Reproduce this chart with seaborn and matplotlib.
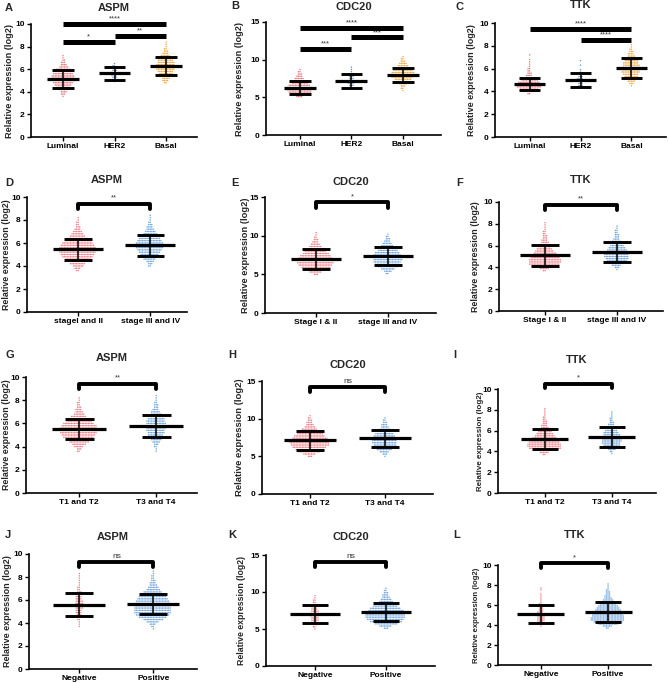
import warnings
warnings.filterwarnings("ignore")
import numpy as np
import pandas as pd
import matplotlib
matplotlib.use("Agg")
import matplotlib.pyplot as plt
import seaborn as sns

sns.set_theme(style="ticks")
plt.rcParams['font.family'] = ['Liberation Sans', 'DejaVu Sans']
plt.rcParams['font.weight'] = 'bold'

# ---------------- data ----------------
cats_subtype = ["Luminal", "HER2", "Basal"]
cats_stage_D = ["stageI and II", "stage III and IV"]
cats_stage_EF = ["Stage I & II", "stage III and IV"]
cats_T = ["T1 and T2", "T3 and T4"]
cats_np = ["Negative", "Positive"]

letters = ["A", "B", "C", "D", "E", "F", "G", "H", "I", "J", "K", "L"]
genes = ["ASPM", "CDC20", "TTK"] * 4
bin_width = {"ASPM": 0.2, "CDC20": 0.3, "TTK": 0.2}
ymax = {"ASPM": 10, "CDC20": 15, "TTK": 10}
yticks = {"ASPM": [0, 2, 4, 6, 8, 10], "CDC20": [0, 5, 10, 15], "TTK": [0, 2, 4, 6, 8, 10]}

# histogram of points per group: first bin centre + counts per bin
A_starts = [3.6, 4.9, 4.8]
A_counts = [[1, 3, 4, 6, 9, 11, 13, 15, 15, 15, 13, 11, 9, 6, 4, 3, 2, 1, 1],
            [1, 2, 3, 4, 4, 3, 3, 2, 1],
            [2, 4, 5, 7, 9, 10, 12, 12, 12, 11, 10, 8, 6, 4, 3, 2, 1, 1, 1]]
B_starts = [5.1, 6.3, 5.9]
B_counts = [[4, 10, 15, 16, 16, 14, 11, 9, 6, 4, 3, 2, 1],
            [2, 3, 4, 4, 3, 3, 2, 1, 1, 1],
            [1, 2, 3, 5, 8, 11, 14, 16, 15, 13, 10, 7, 5, 3, 2, 1]]
C_starts = [3.8, 4.3, 4.5]
C_counts = [[2, 6, 12, 16, 16, 14, 11, 7, 4, 3, 2, 2, 1, 1, 1, 1, 0, 1],
            [1, 3, 3, 4, 4, 3, 2, 1, 1, 0, 1, 0, 1],
            [1, 3, 5, 7, 9, 10, 12, 12, 12, 11, 10, 9, 7, 5, 4, 3, 2, 1, 1]]
D_starts = [3.6, 4.0]
D_counts = [[2, 4, 7, 10, 13, 17, 20, 22, 24, 24, 24, 22, 20, 17, 14, 10, 8, 6, 4, 3, 2, 2, 1, 1],
            [2, 3, 5, 8, 10, 12, 14, 16, 18, 18, 18, 16, 14, 12, 9, 7, 5, 4, 3, 2, 1, 1, 1]]
E_starts = [5.0, 5.1]
E_counts = [[3, 8, 14, 19, 22, 24, 24, 22, 20, 17, 14, 11, 8, 6, 4, 3, 2, 1, 1],
            [2, 5, 9, 13, 16, 18, 19, 19, 18, 16, 13, 10, 8, 6, 4, 3, 2, 1]]
F_starts = [3.7, 3.8]
F_counts = [[2, 6, 14, 20, 21, 21, 19, 17, 15, 12, 10, 8, 7, 5, 4, 3, 3, 2, 2, 1, 1, 1, 1],
            [1, 3, 6, 10, 13, 15, 16, 16, 15, 13, 11, 9, 7, 6, 4, 3, 3, 2, 2, 1, 1]]
G_starts = [3.6, 3.6]
G_counts = [[2, 3, 6, 9, 13, 17, 20, 22, 24, 24, 24, 23, 20, 17, 13, 10, 7, 5, 4, 3, 2, 2, 1, 1],
            [1, 1, 2, 3, 5, 7, 9, 10, 11, 12, 13, 13, 13, 12, 11, 9, 7, 6, 4, 3, 3, 2, 1, 1, 1]]
H_starts = [5.0, 5.0]
H_counts = [[3, 8, 14, 19, 22, 25, 26, 25, 23, 20, 17, 13, 10, 7, 5, 4, 3, 2, 1],
            [1, 3, 6, 10, 13, 15, 16, 16, 15, 14, 12, 9, 7, 5, 4, 3, 2, 1]]
I_starts = [3.7, 3.8]
I_counts = [[2, 6, 15, 21, 22, 22, 20, 18, 16, 13, 11, 9, 7, 5, 4, 3, 3, 2, 2, 1, 1, 1, 1],
            [1, 2, 5, 8, 11, 12, 13, 13, 12, 11, 10, 8, 7, 5, 4, 3, 2, 2, 1, 1, 1]]
J_starts = [3.7, 3.5]
J_counts = [[1, 1, 1, 2, 3, 3, 4, 4, 5, 5, 5, 5, 4, 4, 4, 3, 2, 2, 1, 1, 1, 1, 1, 1],
            [1, 2, 4, 8, 13, 18, 22, 24, 24, 24, 24, 23, 22, 20, 18, 15, 12, 9, 7, 5, 4, 3, 2, 2, 1, 1]]
K_starts = [5.0, 5.1]
K_counts = [[1, 2, 3, 4, 5, 5, 6, 5, 5, 4, 4, 3, 2, 2, 1, 1],
            [3, 8, 15, 21, 24, 26, 26, 25, 23, 20, 16, 12, 9, 7, 5, 4, 3, 2, 1]]
L_starts = [3.9, 3.7]
L_counts = [[1, 3, 4, 5, 5, 5, 4, 4, 3, 3, 2, 2, 1, 1, 1, 1, 1, 0, 1, 1],
            [2, 6, 13, 19, 22, 22, 21, 20, 19, 17, 15, 13, 11, 9, 7, 5, 4, 3, 3, 2, 1, 1, 1]]

# mean and SD of each group
A_mean, A_sd = [5.15, 5.62, 6.25], [0.77, 0.59, 0.79]
B_mean, B_sd = [6.28, 7.18, 7.98], [0.90, 0.88, 0.93]
C_mean, C_sd = [4.68, 5.00, 6.05], [0.53, 0.61, 0.84]
D_mean, D_sd = [5.46, 5.80], [0.92, 0.93]
E_mean, E_sd = [7.00, 7.38], [1.25, 1.19]
F_mean, F_sd = [5.12, 5.40], [0.95, 0.95]
G_mean, G_sd = [5.49, 5.80], [0.86, 0.94]
H_mean, H_sd = [7.12, 7.37], [1.22, 1.19]
I_mean, I_sd = [5.18, 5.40], [0.97, 0.97]
J_mean, J_sd = [5.58, 5.64], [1.01, 0.90]
K_mean, K_sd = [7.00, 7.26], [1.25, 1.20]
L_mean, L_sd = [5.08, 5.33], [0.92, 1.00]

# significance: (group i, group j, height, label)
A_sig = [(0, 2, 10.0, "****"), (0, 1, 8.45, "*"), (1, 2, 8.95, "**")]
B_sig = [(0, 2, 14.2, "****"), (1, 2, 12.95, "***"), (0, 1, 11.45, "***")]
C_sig = [(0, 2, 9.5, "****"), (1, 2, 8.55, "****")]
D_sig = [(0, 1, 9.42, "**")]
E_sig = [(0, 1, 14.3, "*")]
F_sig = [(0, 1, 9.75, "**")]
G_sig = [(0, 1, 9.43, "**")]
H_sig = [(0, 1, 14.2, "ns")]
I_sig = [(0, 1, 10.5, "*")]
J_sig = [(0, 1, 9.33, "ns")]
K_sig = [(0, 1, 14.1, "ns")]
L_sig = [(0, 1, 10.2, "*")]

panel_cats = [cats_subtype] * 3 + [cats_stage_D, cats_stage_EF, cats_stage_EF] + [cats_T] * 3 + [cats_np] * 3
panel_starts = [A_starts, B_starts, C_starts, D_starts, E_starts, F_starts,
                G_starts, H_starts, I_starts, J_starts, K_starts, L_starts]
panel_counts = [A_counts, B_counts, C_counts, D_counts, E_counts, F_counts,
                G_counts, H_counts, I_counts, J_counts, K_counts, L_counts]
panel_mean = [A_mean, B_mean, C_mean, D_mean, E_mean, F_mean, G_mean, H_mean, I_mean, J_mean, K_mean, L_mean]
panel_sd = [A_sd, B_sd, C_sd, D_sd, E_sd, F_sd, G_sd, H_sd, I_sd, J_sd, K_sd, L_sd]
panel_sig = [A_sig, B_sig, C_sig, D_sig, E_sig, F_sig, G_sig, H_sig, I_sig, J_sig, K_sig, L_sig]

# ---------------- styling / layout ----------------
W, H = 669, 683
subtype_colors = ["#E8737D", "#6A8DB8", "#F0A640"]
pair_colors = ["#EC7F86", "#6FA3DA"]

rects = [(31, 197, 24, 137), (266, 441, 22, 135), (495, 666, 23, 137),
         (27, 187, 197, 312), (265, 436, 197, 313), (499, 663, 202, 311),
         (26, 197, 377, 493), (262, 433, 381, 494), (498, 656, 389, 493),
         (29, 197, 554, 669), (266, 435, 555, 666), (498, 651, 565, 665)]
xlims = [(-0.62, 2.6), (-0.66, 2.74), (-0.68, 2.68),
         (-0.71, 1.51), (-0.71, 1.67), (-0.64, 1.64),
         (-0.69, 1.53), (-0.64, 1.64), (-0.70, 1.66),
         (-0.68, 1.59), (-0.69, 1.69), (-0.64, 1.64)]
ylabel_x = [10, 240, 471, 7, 245, 476, 7, 240, 481, 8, 241, 477]
ylabel_fs = [6.6, 6.6, 6.5, 6.4, 6.7, 6.4, 6.4, 6.8, 5.8, 6.5, 6.3, 5.6]
title_y = [8, 7, 5, 180, 182, 180, 358, 365, 360, 537, 537, 535]
letter_xy = [(5, 8), (231, 6), (456, 7), (5, 183), (231, 183), (456, 183),
             (5, 355), (228, 355), (453, 355), (5, 535), (228, 535), (453, 535)]

fig = plt.figure(figsize=(W / 100, H / 100), dpi=100)
fig.patch.set_facecolor("white")

for k in range(12):
    gene = genes[k]
    cats = panel_cats[k]
    w = bin_width[gene]
    rows = []
    for g, (st, cnt) in enumerate(zip(panel_starts[k], panel_counts[k])):
        centres = np.round(st + w * np.arange(len(cnt)), 3)
        vals = np.repeat(centres, cnt)
        rows.append(pd.DataFrame({"group": cats[g], "value": vals}))
    df = pd.concat(rows, ignore_index=True)
    colors = subtype_colors if len(cats) == 3 else pair_colors
    pal = {c: colors[i] for i, c in enumerate(cats)}

    l, r, t, b = rects[k]
    ax = fig.add_axes([l / W, (H - b) / H, (r - l) / W, (b - t) / H])
    n = len(cats)
    ax.set_xlim(*xlims[k])
    ax.set_ylim(0, ymax[gene])
    sns.swarmplot(data=df, x="group", y="value", hue="group", order=cats, hue_order=cats,
                  palette=pal, size=1.05, linewidth=0, alpha=1.0, legend=False, ax=ax, zorder=2)

    mw = 0.31 if n == 3 else 0.35
    cw = 0.21 if n == 3 else 0.19
    for i in range(n):
        m, s = panel_mean[k][i], panel_sd[k][i]
        ax.vlines(i, m - s, m + s, color="black", lw=1.1, zorder=4)
        ax.hlines(m, i - mw, i + mw, color="black", lw=2.3, zorder=5)
        ax.hlines([m - s, m + s], i - cw, i + cw, color="black", lw=2.1, zorder=5)

    top = ymax[gene]
    drop = 0.045 * top
    for (i, j, y, lab) in panel_sig[k]:
        if n == 3:
            ax.plot([i, j], [y, y], color="black", lw=3.6, solid_capstyle="butt",
                    clip_on=False, zorder=6)
            ax.annotate(lab, ((i + j) / 2, y), xytext=(0, 1.0), textcoords="offset points",
                        ha="center", va="bottom", fontsize=5.5, color="#333333",
                        fontweight="normal", annotation_clip=False)
        else:
            ax.plot([i, i, j, j], [y - drop, y, y, y - drop], color="black", lw=2.8,
                    solid_joinstyle="round", solid_capstyle="round", clip_on=False, zorder=6)
            ax.annotate(lab, ((i + j) / 2, y), xytext=(0, 1.5), textcoords="offset points",
                        ha="center", va="bottom", fontsize=5.5 if lab != "ns" else 6,
                        color="#333333", fontweight="normal", annotation_clip=False)

    ax.set_xlim(*xlims[k])
    ax.set_ylim(0, top)
    ax.set_yticks(yticks[gene])
    ax.set_yticklabels([str(v) for v in yticks[gene]], fontsize=6, fontweight="bold")
    ax.set_xticks(range(n))
    ax.set_xticklabels(cats, fontsize=6, fontweight="bold")
    ax.set_xlabel("")
    ax.set_ylabel("")
    for sp in ["top", "right"]:
        ax.spines[sp].set_visible(False)
    for sp in ["left", "bottom"]:
        ax.spines[sp].set_linewidth(1.2)
        ax.spines[sp].set_color("black")
    ax.tick_params(axis="both", length=3, width=1.0, pad=1.5, colors="black")
    ax.set_facecolor("white")

    fig.text(ylabel_x[k] / W, 1 - ((t + b) / 2) / H, "Relative expression (log2)",
             rotation=90, ha="center", va="center", fontsize=ylabel_fs[k], fontweight="bold")
    fig.text(((l + r) / 2) / W, 1 - title_y[k] / H, gene, ha="center", va="center",
             fontsize=8, fontweight="bold")
    lx, ly = letter_xy[k]
    fig.text(lx / W, 1 - ly / H, letters[k], ha="left", va="center", fontsize=8, fontweight="bold")

fig.savefig("out.png", dpi=100, facecolor="white")
